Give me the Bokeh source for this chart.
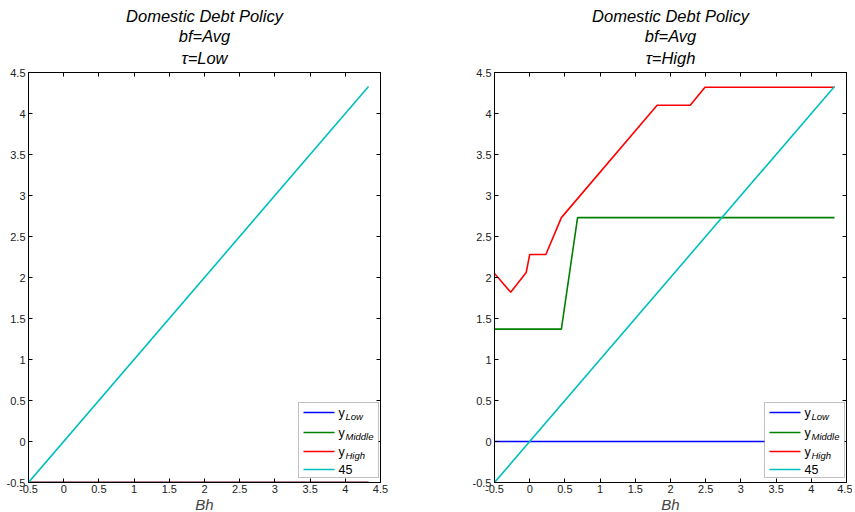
from bokeh.plotting import figure
from bokeh.layouts import row
from bokeh.models import (Range1d, FixedTicker, LinearAxis, Title, Label,
                          BoxAnnotation, Arrow, CustomLabelingPolicy)
from bokeh.embed import file_html
from bokeh.resources import INLINE

# ---------------- data ----------------
x_ticks = [-0.5, 0, 0.5, 1, 1.5, 2, 2.5, 3, 3.5, 4, 4.5]
tick_labels = ["-0.5", "0", "0.5", "1", "1.5", "2", "2.5", "3", "3.5", "4", "4.5"]

# left panel (tau = Low)
bh_line45 = [-0.5, 4.33]
y_line45 = [-0.5, 4.33]
left_bh = [-0.5, 4.33]
left_y_low = [-0.5, -0.5]
left_y_mid = [-0.5, -0.5]
left_y_high = [-0.5, -0.5]

# right panel (tau = High)
right_bh_low = [-0.5, 4.33]
right_y_low = [0.0, 0.0]
right_bh_mid = [-0.5, 0.45, 0.68, 4.33]
right_y_mid = [1.37, 1.37, 2.73, 2.73]
right_bh_high = [-0.5, -0.27, -0.05, 0.0, 0.23, 0.45, 1.81, 2.28, 2.49, 4.33]
right_y_high = [2.05, 1.82, 2.06, 2.28, 2.28, 2.73, 4.10, 4.10, 4.32, 4.32]

legend_main = ["y", "y", "y", "45"]
legend_sub = ["Low", "Middle", "High", ""]
colors = ["#0000ff", "#008000", "#ff0000", "#00bfbf"]

FONT = "Liberation Sans"
FW, FH = 352, 410


def make_panel(tau, series, min_left, min_right):
    p = figure(frame_width=FW, frame_height=FH, title=None,
               x_range=Range1d(-0.5, 4.5), y_range=Range1d(-0.5, 4.5),
               output_backend="svg", toolbar_location=None,
               min_border_left=min_left, min_border_right=min_right,
               min_border_top=72, min_border_bottom=10)
    p.grid.visible = False
    p.outline_line_color = "black"
    p.background_fill_color = "white"
    p.border_fill_color = "white"

    for ax in (p.xaxis[0], p.yaxis[0]):
        ax.ticker = FixedTicker(ticks=x_ticks)
        ax.major_label_overrides = dict(zip(x_ticks, tick_labels))
        ax.major_tick_in = 4
        ax.major_tick_out = 0
        ax.minor_tick_line_color = None
        ax.major_label_text_font = FONT
        ax.major_label_text_font_size = "11px"
        ax.major_label_text_color = "#222222"
        ax.axis_line_color = "black"
        ax.major_tick_line_color = "black"
    p.xaxis.major_label_standoff = 2
    p.yaxis.major_label_standoff = 3
    p.xaxis.axis_label = "Bh"
    p.xaxis.axis_label_text_font = FONT
    p.xaxis.axis_label_text_font_style = "italic"
    p.xaxis.axis_label_text_font_size = "15px"
    p.xaxis.axis_label_standoff = 0

    no_labels = CustomLabelingPolicy(
        code="return new indices.constructor(indices.size)")
    for loc in ("above", "right"):
        ax = LinearAxis(ticker=FixedTicker(ticks=x_ticks),
                        major_tick_in=4, major_tick_out=0,
                        minor_tick_line_color=None,
                        major_label_policy=no_labels,
                        major_label_text_font_size="1px",
                        major_label_standoff=0,
                        axis_label=None)
        p.add_layout(ax, loc)

    titles = ["\u03c4=" + tau, "bf=Avg", "Domestic Debt Policy"]
    for i, t in enumerate(titles):
        p.add_layout(Title(text=t, align="center", text_font=FONT,
                           text_font_style="italic", text_font_size="16.5px",
                           text_color="black", standoff=0 if i else 4), "above")

    for (xs, ys), c in zip(series, colors):
        p.line(xs, ys, line_color=c, line_width=1.6)

    # legend (screen units, relative to frame)
    bw, bh = 80, 75
    right = FW - 2
    left = right - bw
    bottom = 5
    top = bottom + bh
    p.add_layout(BoxAnnotation(left=left, right=right, bottom=bottom, top=top,
                               left_units="screen", right_units="screen",
                               bottom_units="screen", top_units="screen",
                               fill_color="white", fill_alpha=1.0,
                               line_color="#333333", line_width=1,
                               level="overlay"))
    offs = [10, 30, 49, 67]
    for k in range(4):
        yy = top - offs[k]
        p.add_layout(Arrow(end=None, x_start=left + 5, y_start=yy,
                           x_end=left + 36, y_end=yy,
                           start_units="screen", end_units="screen",
                           line_color=colors[k], line_width=1.6,
                           level="overlay"))
        p.add_layout(Label(x=left + 40, y=yy, x_units="screen", y_units="screen",
                           text=legend_main[k], text_font=FONT,
                           text_font_size="12.5px", text_baseline="middle",
                           text_color="black", level="overlay"))
        if legend_sub[k]:
            p.add_layout(Label(x=left + 47, y=yy - 4, x_units="screen",
                               y_units="screen", text=legend_sub[k],
                               text_font=FONT, text_font_style="italic",
                               text_font_size="9.5px", text_baseline="middle",
                               text_color="black", level="overlay"))
    return p


left_series = [(left_bh, left_y_low), (left_bh, left_y_mid),
               (left_bh, left_y_high), (bh_line45, y_line45)]
right_series = [(right_bh_low, right_y_low), (right_bh_mid, right_y_mid),
                (right_bh_high, right_y_high), (bh_line45, y_line45)]

p1 = make_panel("Low", left_series, 28, 89)
p2 = make_panel("High", right_series, 22, 6)

layout = row(p1, p2)
open("out.html", "w").write(file_html(layout, INLINE))
